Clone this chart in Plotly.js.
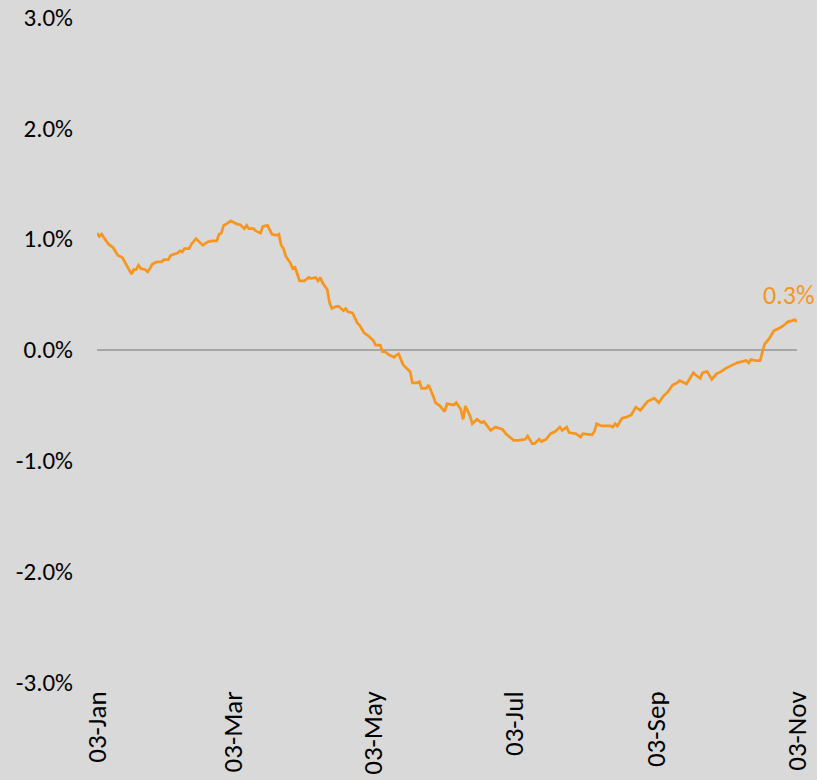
<!DOCTYPE html>
<html>
<head>
<meta charset="utf-8">
<script src="https://cdn.plot.ly/plotly-3.0.1.min.js"></script>
<style>
  html, body { margin: 0; padding: 0; background: #d9d9d9; }
  #chart { width: 817px; height: 780px; }
</style>
</head>
<body>
<div id="chart"></div>
<script>
const dates = [
  '2023-01-03','2023-01-04','2023-01-05','2023-01-06','2023-01-08','2023-01-10','2023-01-11','2023-01-12','2023-01-14','2023-01-15',
  '2023-01-17','2023-01-18','2023-01-19','2023-01-20','2023-01-21','2023-01-22','2023-01-24','2023-01-25','2023-01-26','2023-01-27',
  '2023-01-29','2023-01-31','2023-02-01','2023-02-03','2023-02-04','2023-02-07','2023-02-08','2023-02-09','2023-02-10','2023-02-12',
  '2023-02-13','2023-02-15','2023-02-16','2023-02-18','2023-02-20','2023-02-22','2023-02-24','2023-02-25','2023-02-26','2023-02-27',
  '2023-02-28','2023-03-02','2023-03-03','2023-03-05','2023-03-06','2023-03-08','2023-03-09','2023-03-10','2023-03-12','2023-03-13',
  '2023-03-15','2023-03-16','2023-03-18','2023-03-19','2023-03-20','2023-03-22','2023-03-23','2023-03-24','2023-03-25','2023-03-26',
  '2023-03-28','2023-03-29','2023-03-30','2023-04-01','2023-04-03','2023-04-05','2023-04-06','2023-04-08','2023-04-09','2023-04-10',
  '2023-04-11','2023-04-13','2023-04-14','2023-04-15','2023-04-17','2023-04-18','2023-04-20','2023-04-21','2023-04-22','2023-04-24',
  '2023-04-26','2023-04-27','2023-04-29','2023-05-01','2023-05-03','2023-05-04','2023-05-06','2023-05-07','2023-05-08','2023-05-10',
  '2023-05-12','2023-05-13','2023-05-14','2023-05-16','2023-05-17','2023-05-19','2023-05-20','2023-05-22','2023-05-23','2023-05-24',
  '2023-05-26','2023-05-27','2023-05-29','2023-05-30','2023-06-01','2023-06-03','2023-06-04','2023-06-07','2023-06-08','2023-06-10',
  '2023-06-11','2023-06-12','2023-06-14','2023-06-15','2023-06-17','2023-06-19','2023-06-20','2023-06-22','2023-06-23','2023-06-25',
  '2023-06-28','2023-06-30','2023-07-03','2023-07-05','2023-07-08','2023-07-09','2023-07-11','2023-07-12','2023-07-14','2023-07-15',
  '2023-07-17','2023-07-19','2023-07-21','2023-07-23','2023-07-24','2023-07-26','2023-07-27','2023-07-30','2023-08-01','2023-08-02',
  '2023-08-06','2023-08-07','2023-08-08','2023-08-10','2023-08-12','2023-08-14','2023-08-15','2023-08-16','2023-08-17','2023-08-19',
  '2023-08-21','2023-08-23','2023-08-25','2023-08-27','2023-08-30','2023-09-01','2023-09-02','2023-09-04','2023-09-06','2023-09-08',
  '2023-09-10','2023-09-12','2023-09-13','2023-09-16','2023-09-18','2023-09-19','2023-09-20','2023-09-22','2023-09-23','2023-09-25',
  '2023-09-27','2023-09-29','2023-10-01','2023-10-03','2023-10-05','2023-10-08','2023-10-10','2023-10-12','2023-10-13','2023-10-14',
  '2023-10-16','2023-10-18','2023-10-19','2023-10-20','2023-10-22','2023-10-23','2023-10-24','2023-10-26','2023-10-27','2023-10-29',
  '2023-10-30','2023-11-01','2023-11-02','2023-11-03'
];

const values = [
  1.05, 1.02, 1.04, 1.01, 0.95, 0.92, 0.89, 0.85, 0.83, 0.79,
  0.72, 0.68, 0.72, 0.72, 0.76, 0.73, 0.72, 0.70, 0.73, 0.77,
  0.79, 0.79, 0.81, 0.81, 0.85, 0.87, 0.89, 0.88, 0.91, 0.91,
  0.95, 1.00, 0.98, 0.94, 0.97, 0.98, 0.98, 1.04, 1.05, 1.12,
  1.13, 1.16, 1.15, 1.13, 1.13, 1.09, 1.12, 1.09, 1.09, 1.07,
  1.05, 1.11, 1.12, 1.08, 1.04, 1.03, 1.04, 0.94, 0.91, 0.84,
  0.78, 0.73, 0.74, 0.62, 0.62, 0.65, 0.64, 0.65, 0.62, 0.65,
  0.60, 0.54, 0.42, 0.37, 0.39, 0.39, 0.35, 0.37, 0.34, 0.33,
  0.24, 0.22, 0.15, 0.12, 0.08, 0.04, 0.04, -0.02, -0.02, -0.05,
  -0.07, -0.05, -0.04, -0.14, -0.16, -0.20, -0.30, -0.30, -0.29, -0.35,
  -0.35, -0.32, -0.42, -0.48, -0.51, -0.56, -0.49, -0.50, -0.48, -0.54,
  -0.63, -0.51, -0.60, -0.67, -0.63, -0.66, -0.65, -0.71, -0.73, -0.70,
  -0.72, -0.77, -0.82, -0.82, -0.81, -0.78, -0.85, -0.85, -0.81, -0.83,
  -0.81, -0.76, -0.74, -0.70, -0.73, -0.70, -0.75, -0.76, -0.79, -0.76,
  -0.77, -0.74, -0.67, -0.69, -0.69, -0.69, -0.70, -0.67, -0.69, -0.62,
  -0.61, -0.59, -0.52, -0.55, -0.47, -0.45, -0.44, -0.48, -0.42, -0.38,
  -0.32, -0.30, -0.28, -0.31, -0.25, -0.21, -0.23, -0.26, -0.21, -0.20,
  -0.27, -0.22, -0.20, -0.17, -0.15, -0.12, -0.11, -0.10, -0.12, -0.09,
  -0.10, -0.10, -0.02, 0.05, 0.10, 0.13, 0.17, 0.19, 0.20, 0.23,
  0.25, 0.26, 0.27, 0.25
];

const xTickVals = ['2023-01-03','2023-03-03','2023-05-03','2023-07-03','2023-09-03','2023-11-03'];
const xTickText = ['03-Jan','03-Mar','03-May','03-Jul','03-Sep','03-Nov'];
const yTickVals = [-3, -2, -1, 0, 1, 2, 3];
const yTickText = ['-3.0%','-2.0%','-1.0%','0.0%','1.0%','2.0%','3.0%'];

const FONT = "Carlito, Calibri, 'Noto Sans', sans-serif";
const ORANGE = '#f7961e';

const lastX = dates[dates.length - 1];
const lastY = values[values.length - 1];

const trace = {
  x: dates,
  y: values,
  type: 'scatter',
  mode: 'lines',
  line: { color: ORANGE, width: 2.75 },
  hoverinfo: 'x+y'
};

const layout = {
  width: 817,
  height: 780,
  margin: { l: 97, r: 20, t: 17, b: 98, pad: 0 },
  paper_bgcolor: '#d9d9d9',
  plot_bgcolor: '#d9d9d9',
  showlegend: false,
  font: { family: FONT, size: 25, color: '#000000' },
  xaxis: {
    type: 'date',
    range: [dates[0], lastX],
    tickvals: xTickVals,
    ticktext: xTickText,
    tickangle: -90,
    showgrid: false,
    zeroline: false,
    showline: false,
    ticks: '',
    tickfont: { family: FONT, size: 27, color: '#000000' },
    ticklabelstandoff: 3
  },
  yaxis: {
    range: [-3, 3],
    tickvals: yTickVals,
    ticktext: yTickText,
    showgrid: false,
    showline: false,
    ticks: '',
    zeroline: true,
    zerolinecolor: '#a6a6a6',
    zerolinewidth: 2,
    tickfont: { family: FONT, size: 25, color: '#000000' },
    ticklabelstandoff: 23
  },
  annotations: [{
    x: lastX,
    y: lastY,
    xref: 'x',
    yref: 'y',
    text: lastY.toFixed(1) + '%',
    showarrow: false,
    xanchor: 'center',
    yanchor: 'middle',
    xshift: -8,
    yshift: 27,
    font: { family: FONT, size: 26, color: ORANGE }
  }]
};

Plotly.newPlot('chart', [trace], layout, { displayModeBar: false, staticPlot: true });
</script>
</body>
</html>
